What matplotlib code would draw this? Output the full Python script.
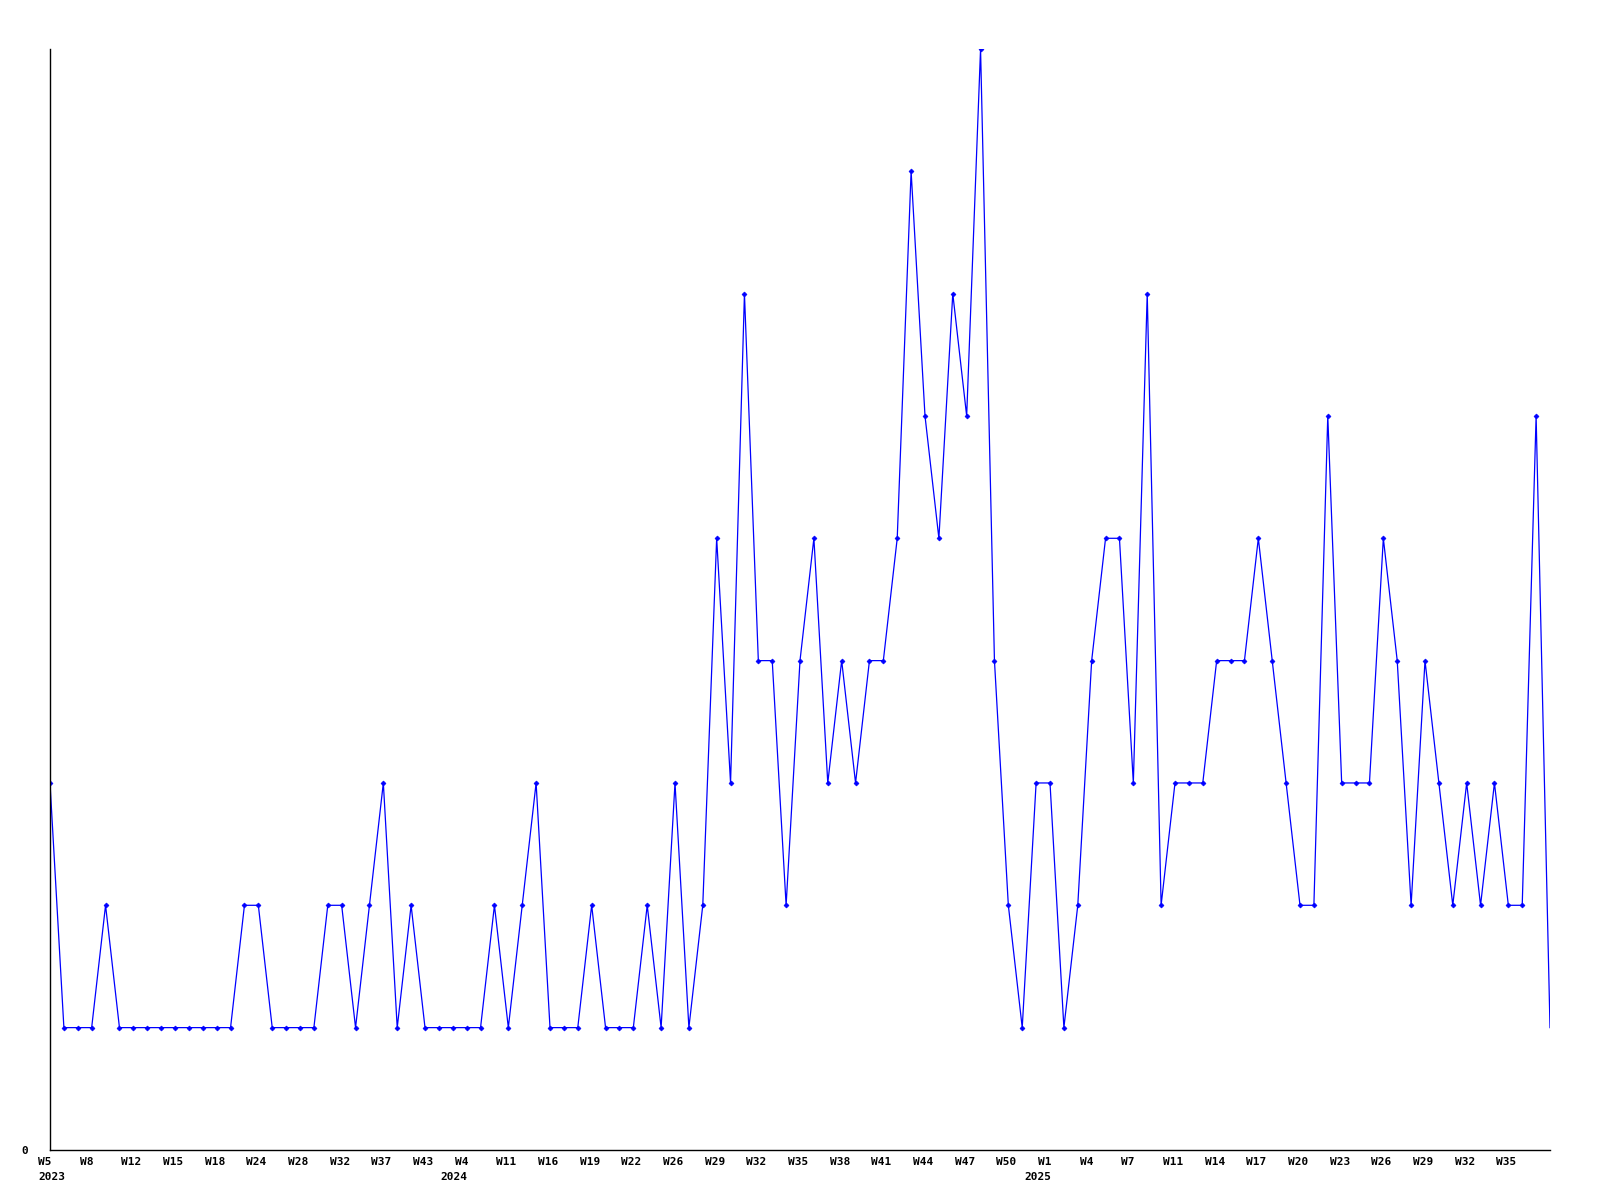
import matplotlib
matplotlib.use("Agg")
import matplotlib.pyplot as plt
import matplotlib.transforms as mtransforms

# weekly counts, one value per week that has data (2023 W5 .. 2025 W38)
counts = [3, 1, 1, 1, 2, 1, 1, 1, 1, 1, 1, 1, 1, 1, 2, 2, 1, 1, 1, 1,
          2, 2, 1, 2, 3, 1, 2, 1, 1, 1, 1, 1, 2, 1, 2, 3, 1, 1, 1, 2,
          1, 1, 1, 2, 1, 3, 1, 2, 5, 3, 7, 4, 4, 2, 4, 5, 3, 4, 3, 4,
          4, 5, 8, 6, 5, 7, 6, 9, 4, 2, 1, 3, 3, 1, 2, 4, 5, 5, 3, 7,
          2, 3, 3, 3, 4, 4, 4, 5, 4, 3, 2, 2, 6, 3, 3, 3, 5, 4, 2, 4,
          3, 2, 3, 2, 3, 2, 2, 6, 1]

# labels shown on every third point
tick_labels = ["W5", "W8", "W12", "W15", "W18", "W24", "W28", "W32",
               "W37", "W43", "W4", "W11", "W16", "W19", "W22", "W26",
               "W29", "W32", "W35", "W38", "W41", "W44", "W47", "W50",
               "W1", "W4", "W7", "W11", "W14", "W17", "W20", "W23",
               "W26", "W29", "W32", "W35"]

# year markers: (point index, year)
year_pos = [0, 30, 72]
years = ["2023", "2024", "2025"]

x = list(range(len(counts)))
ticks = x[::3][:len(tick_labels)]

font = {"family": "DejaVu Sans Mono", "weight": "bold", "size": 8}

fig = plt.figure(figsize=(16, 12), dpi=100)
ax = fig.add_axes([0.03125, 0.0417, 0.9375, 0.9175])

# line through all points, markers on all but the last one
ax.plot(x, counts, color="#0000ff", linewidth=0.9)
ax.plot(x[:-1], counts[:-1], linestyle="none", marker="D", markersize=2.5,
        color="#0000ff", markeredgewidth=0.5)

ax.set_xlim(0, len(counts) - 1)
ax.set_ylim(0, max(counts))

ax.spines["top"].set_visible(False)
ax.spines["right"].set_visible(False)
ax.spines["left"].set_linewidth(1)
ax.spines["bottom"].set_linewidth(1)

ax.set_yticks([0])
ax.set_yticklabels(["0"], fontdict=font)
ax.set_xticks(ticks)
ax.set_xticklabels(tick_labels, fontdict=font, ha="left", va="top")
ax.tick_params(axis="both", length=0)
ax.tick_params(axis="y", pad=16)
ax.tick_params(axis="x", pad=5)

# shift x labels a bit left of their point
offset = mtransforms.ScaledTranslation(-12 / 100, 0, fig.dpi_scale_trans)
for lbl in ax.get_xticklabels():
    lbl.set_transform(lbl.get_transform() + offset)

# year labels under the first week of each year
trans = ax.get_xaxis_transform()
for i, (p, yr) in enumerate(zip(year_pos, years)):
    if i == 0:
        t = trans + mtransforms.ScaledTranslation(-12 / 100, -22 / 100, fig.dpi_scale_trans)
        ax.text(p, 0, yr, transform=t, ha="left", va="top", fontdict=font)
    else:
        t = trans + mtransforms.ScaledTranslation(1 / 100, -22 / 100, fig.dpi_scale_trans)
        ax.text(p, 0, yr, transform=t, ha="right", va="top", fontdict=font)

fig.savefig("out.png", dpi=100)
